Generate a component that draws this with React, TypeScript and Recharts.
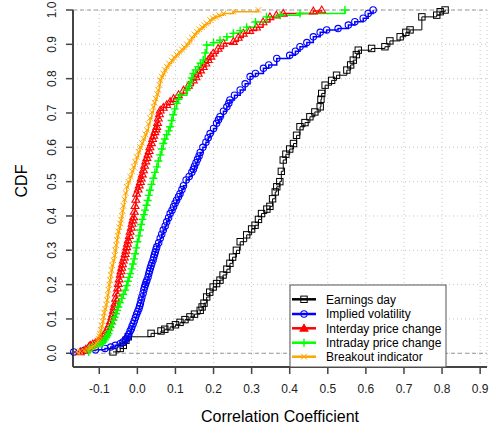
import React from 'react';
import { ComposedChart, Line, XAxis, YAxis, CartesianGrid, ReferenceLine } from 'recharts';

const earningsDay: [number, number][] = [
  [-0.064, 0.004], [-0.045, 0.014], [-0.037, 0.023], [-0.03, 0.038], [-0.024, 0.048],
  [0.036, 0.058], [0.062, 0.065], [0.072, 0.07], [0.086, 0.077], [0.1, 0.083],
  [0.112, 0.09], [0.125, 0.098], [0.138, 0.106], [0.15, 0.114], [0.165, 0.125],
  [0.17, 0.135], [0.175, 0.146], [0.182, 0.164], [0.19, 0.178], [0.199, 0.193],
  [0.208, 0.203], [0.217, 0.213], [0.225, 0.228], [0.235, 0.245], [0.243, 0.262],
  [0.25, 0.28], [0.26, 0.3], [0.27, 0.325], [0.287, 0.345], [0.3, 0.362],
  [0.309, 0.373], [0.318, 0.39], [0.326, 0.407], [0.34, 0.42], [0.348, 0.428],
  [0.355, 0.45], [0.362, 0.47], [0.366, 0.485], [0.374, 0.5], [0.378, 0.53],
  [0.383, 0.563], [0.39, 0.58], [0.4, 0.595], [0.41, 0.611], [0.418, 0.635],
  [0.427, 0.66], [0.44, 0.672], [0.453, 0.689], [0.466, 0.703], [0.48, 0.718],
  [0.482, 0.74], [0.484, 0.757], [0.493, 0.781], [0.51, 0.795], [0.523, 0.81],
  [0.55, 0.825], [0.56, 0.84], [0.567, 0.854], [0.575, 0.87], [0.58, 0.883],
  [0.615, 0.888], [0.65, 0.893], [0.663, 0.91], [0.69, 0.922], [0.705, 0.935],
  [0.716, 0.942], [0.747, 0.98], [0.786, 0.985], [0.795, 0.995], [0.808, 1.0],
];

const impliedVolatility: [number, number][] = [
  [-0.167, 0.004], [-0.14, 0.008], [-0.11, 0.01], [-0.085, 0.014], [-0.07, 0.018],
  [-0.058, 0.023], [-0.045, 0.028], [-0.038, 0.033], [-0.032, 0.038], [-0.028, 0.043],
  [-0.025, 0.048], [-0.022, 0.056], [-0.019, 0.065], [-0.016, 0.071], [-0.014, 0.078],
  [-0.011, 0.086], [-0.008, 0.095], [-0.005, 0.104], [-0.002, 0.114], [0.001, 0.122],
  [0.004, 0.13], [0.006, 0.138], [0.008, 0.145], [0.01, 0.155], [0.012, 0.164],
  [0.015, 0.175], [0.017, 0.185], [0.019, 0.193], [0.021, 0.2], [0.023, 0.207],
  [0.025, 0.213], [0.028, 0.222], [0.03, 0.232], [0.032, 0.24], [0.034, 0.248],
  [0.036, 0.255], [0.038, 0.262], [0.041, 0.271], [0.043, 0.28], [0.045, 0.288],
  [0.047, 0.295], [0.049, 0.303], [0.051, 0.31], [0.056, 0.322], [0.06, 0.335],
  [0.064, 0.347], [0.068, 0.359], [0.073, 0.371], [0.077, 0.383], [0.082, 0.395],
  [0.086, 0.407], [0.091, 0.417], [0.095, 0.427], [0.099, 0.437], [0.103, 0.446],
  [0.108, 0.456], [0.112, 0.465], [0.117, 0.477], [0.121, 0.488], [0.128, 0.505],
  [0.136, 0.515], [0.143, 0.527], [0.147, 0.536], [0.15, 0.545], [0.154, 0.555],
  [0.158, 0.565], [0.162, 0.575], [0.165, 0.585], [0.172, 0.6], [0.18, 0.615],
  [0.186, 0.628], [0.191, 0.64], [0.2, 0.655], [0.208, 0.67], [0.213, 0.68],
  [0.217, 0.689], [0.226, 0.705], [0.235, 0.718], [0.24, 0.728], [0.243, 0.738],
  [0.255, 0.752], [0.27, 0.767], [0.283, 0.785], [0.296, 0.806], [0.31, 0.815],
  [0.331, 0.83], [0.345, 0.84], [0.366, 0.859], [0.4, 0.868], [0.415, 0.88],
  [0.427, 0.893], [0.445, 0.905], [0.462, 0.922], [0.48, 0.935], [0.497, 0.942],
  [0.527, 0.946], [0.554, 0.956], [0.571, 0.966], [0.593, 0.976], [0.606, 0.99],
  [0.619, 1.0],
];

const interdayPriceChange: [number, number][] = [
  [-0.15, 0.004], [-0.14, 0.008], [-0.135, 0.012], [-0.128, 0.018], [-0.124, 0.023],
  [-0.117, 0.027], [-0.11, 0.03], [-0.104, 0.034], [-0.098, 0.038], [-0.094, 0.044],
  [-0.09, 0.05], [-0.085, 0.058], [-0.08, 0.067], [-0.077, 0.076], [-0.073, 0.085],
  [-0.07, 0.095], [-0.067, 0.106], [-0.065, 0.115], [-0.063, 0.125], [-0.061, 0.135],
  [-0.059, 0.145], [-0.057, 0.16], [-0.055, 0.175], [-0.052, 0.19], [-0.05, 0.203],
  [-0.048, 0.216], [-0.045, 0.23], [-0.043, 0.24], [-0.041, 0.25], [-0.039, 0.26],
  [-0.037, 0.271], [-0.034, 0.28], [-0.032, 0.29], [-0.03, 0.3], [-0.028, 0.31],
  [-0.026, 0.32], [-0.024, 0.33], [-0.021, 0.343], [-0.019, 0.355], [-0.016, 0.367],
  [-0.014, 0.378], [-0.012, 0.388], [-0.01, 0.397], [-0.008, 0.413], [-0.006, 0.43],
  [-0.004, 0.448], [-0.002, 0.466], [0.002, 0.478], [0.005, 0.49], [0.008, 0.5],
  [0.01, 0.51], [0.013, 0.522], [0.016, 0.534], [0.019, 0.547], [0.022, 0.56],
  [0.025, 0.57], [0.028, 0.58], [0.031, 0.59], [0.033, 0.601], [0.037, 0.613],
  [0.04, 0.625], [0.043, 0.635], [0.046, 0.645], [0.049, 0.653], [0.051, 0.66],
  [0.053, 0.672], [0.055, 0.685], [0.058, 0.697], [0.06, 0.708], [0.068, 0.716],
  [0.077, 0.724], [0.086, 0.733], [0.095, 0.742], [0.108, 0.753], [0.121, 0.766],
  [0.134, 0.78], [0.147, 0.796], [0.154, 0.805], [0.16, 0.815], [0.166, 0.825],
  [0.173, 0.835], [0.18, 0.845], [0.186, 0.855], [0.193, 0.865], [0.199, 0.874],
  [0.212, 0.888], [0.226, 0.903], [0.252, 0.908], [0.265, 0.92], [0.278, 0.932],
  [0.295, 0.94], [0.313, 0.95], [0.33, 0.965], [0.348, 0.98], [0.365, 0.985],
  [0.383, 0.99], [0.462, 0.997], [0.484, 1.0],
];

const intradayPriceChange: [number, number][] = [
  [-0.128, 0.004], [-0.125, 0.015], [-0.118, 0.019], [-0.11, 0.022], [-0.104, 0.025],
  [-0.098, 0.028], [-0.093, 0.03], [-0.089, 0.033], [-0.085, 0.039], [-0.082, 0.045],
  [-0.079, 0.051], [-0.076, 0.057], [-0.073, 0.066], [-0.07, 0.075], [-0.066, 0.085],
  [-0.063, 0.096], [-0.06, 0.105], [-0.056, 0.115], [-0.053, 0.125], [-0.05, 0.135],
  [-0.046, 0.148], [-0.041, 0.16], [-0.037, 0.172], [-0.032, 0.184], [-0.028, 0.197],
  [-0.025, 0.21], [-0.022, 0.221], [-0.019, 0.232], [-0.015, 0.246], [-0.012, 0.26],
  [-0.009, 0.275], [-0.006, 0.29], [-0.003, 0.307], [0.0, 0.325], [0.004, 0.342],
  [0.007, 0.359], [0.01, 0.375], [0.013, 0.39], [0.017, 0.404], [0.02, 0.417],
  [0.024, 0.431], [0.027, 0.445], [0.03, 0.46], [0.033, 0.475], [0.037, 0.492],
  [0.042, 0.51], [0.046, 0.527], [0.051, 0.543], [0.055, 0.56], [0.06, 0.578],
  [0.064, 0.595], [0.068, 0.611], [0.072, 0.624], [0.077, 0.637], [0.082, 0.648],
  [0.086, 0.66], [0.09, 0.678], [0.094, 0.695], [0.098, 0.712], [0.103, 0.728],
  [0.108, 0.74], [0.112, 0.752], [0.13, 0.767], [0.135, 0.778], [0.139, 0.79],
  [0.143, 0.802], [0.147, 0.815], [0.153, 0.825], [0.16, 0.835], [0.166, 0.845],
  [0.173, 0.854], [0.178, 0.875], [0.182, 0.898], [0.2, 0.905], [0.217, 0.912],
  [0.235, 0.922], [0.252, 0.932], [0.27, 0.94], [0.287, 0.95], [0.31, 0.965],
  [0.339, 0.98], [0.375, 0.985], [0.427, 0.99], [0.545, 1.0],
];

const breakoutIndicator: [number, number][] = [
  [-0.159, 0.004], [-0.15, 0.006], [-0.14, 0.008], [-0.132, 0.011], [-0.125, 0.014],
  [-0.12, 0.017], [-0.115, 0.02], [-0.111, 0.024], [-0.107, 0.028], [-0.104, 0.035],
  [-0.102, 0.042], [-0.1, 0.05], [-0.098, 0.057], [-0.096, 0.068], [-0.094, 0.08],
  [-0.091, 0.093], [-0.089, 0.106], [-0.087, 0.118], [-0.085, 0.13], [-0.082, 0.142],
  [-0.08, 0.155], [-0.078, 0.17], [-0.076, 0.185], [-0.074, 0.2], [-0.072, 0.213],
  [-0.07, 0.228], [-0.068, 0.242], [-0.066, 0.256], [-0.063, 0.271], [-0.06, 0.285],
  [-0.058, 0.3], [-0.056, 0.315], [-0.054, 0.33], [-0.052, 0.342], [-0.05, 0.355],
  [-0.047, 0.367], [-0.045, 0.378], [-0.043, 0.389], [-0.041, 0.4], [-0.039, 0.415],
  [-0.037, 0.43], [-0.034, 0.448], [-0.031, 0.467], [-0.028, 0.485], [-0.024, 0.5],
  [-0.019, 0.515], [-0.014, 0.53], [-0.01, 0.543], [-0.006, 0.558], [-0.002, 0.572],
  [0.003, 0.587], [0.007, 0.601], [0.012, 0.613], [0.016, 0.625], [0.021, 0.638],
  [0.025, 0.65], [0.029, 0.668], [0.033, 0.685], [0.038, 0.702], [0.042, 0.718],
  [0.045, 0.73], [0.048, 0.742], [0.052, 0.755], [0.055, 0.767], [0.058, 0.782],
  [0.06, 0.796], [0.064, 0.806], [0.068, 0.815], [0.072, 0.825], [0.077, 0.835],
  [0.083, 0.844], [0.09, 0.853], [0.096, 0.862], [0.103, 0.87], [0.11, 0.878],
  [0.117, 0.885], [0.123, 0.892], [0.13, 0.9], [0.137, 0.91], [0.143, 0.92],
  [0.15, 0.929], [0.156, 0.937], [0.163, 0.944], [0.17, 0.95], [0.176, 0.956],
  [0.182, 0.961], [0.191, 0.971], [0.198, 0.976], [0.205, 0.98], [0.215, 0.985],
  [0.226, 0.99], [0.252, 0.995], [0.318, 1.0],
];

const xTicks = [-0.1, 0, 0.1, 0.2, 0.3, 0.4, 0.5, 0.6, 0.7, 0.8, 0.9];
const yTicks = [0, 0.1, 0.2, 0.3, 0.4, 0.5, 0.6, 0.7, 0.8, 0.9, 1.0];

type MarkerKind = 'square' | 'circle' | 'triangle' | 'plus' | 'cross';

const SERIES: { name: string; color: string; marker: MarkerKind; width: number; points: [number, number][] }[] = [
  { name: 'Earnings day', color: '#000000', marker: 'square', width: 1, points: earningsDay },
  { name: 'Implied volatility', color: '#0000ff', marker: 'circle', width: 1.5, points: impliedVolatility },
  { name: 'Interday price change', color: '#ff0000', marker: 'triangle', width: 1.5, points: interdayPriceChange },
  { name: 'Intraday price change', color: '#00ff00', marker: 'plus', width: 1.5, points: intradayPriceChange },
  { name: 'Breakout indicator', color: '#ffa500', marker: 'cross', width: 1.5, points: breakoutIndicator },
];

const FONT = '"Liberation Sans", Arial, Helvetica, sans-serif';

function Marker({ kind, cx, cy, color, filled = false }: { kind: MarkerKind; cx: number; cy: number; color: string; filled?: boolean }) {
  if (cx == null || cy == null || isNaN(cx) || isNaN(cy)) return null;
  const fill = filled ? color : 'none';
  switch (kind) {
    case 'square':
      return <rect x={cx - 3.2} y={cy - 3.2} width={6.4} height={6.4} fill={fill} stroke={color} strokeWidth={1} />;
    case 'circle':
      return <circle cx={cx} cy={cy} r={3.2} fill={fill} stroke={color} strokeWidth={1.1} />;
    case 'triangle':
      return (
        <path d={`M${cx},${cy - 4} L${cx + 3.9},${cy + 2.8} L${cx - 3.9},${cy + 2.8} Z`} fill={fill} stroke={color} strokeWidth={1.1} />
      );
    case 'plus':
      return <path d={`M${cx - 4},${cy} H${cx + 4} M${cx},${cy - 4} V${cy + 4}`} stroke={color} strokeWidth={1.4} />;
    case 'cross':
      return (
        <path d={`M${cx - 2.8},${cy - 2.8} L${cx + 2.8},${cy + 2.8} M${cx - 2.8},${cy + 2.8} L${cx + 2.8},${cy - 2.8}`} stroke={color} strokeWidth={1} />
      );
  }
  return null;
}

function YTick(props: any) {
  const { y, payload } = props;
  const x = 56;
  return (
    <text x={x} y={y} transform={`rotate(-90 ${x} ${y})`} textAnchor="middle" fontSize={12} fontFamily={FONT} fill="#222">
      {Number(payload.value).toFixed(1)}
    </text>
  );
}

function XTick(props: any) {
  const { x, payload } = props;
  return (
    <text x={x} y={393} textAnchor="middle" fontSize={12} fontFamily={FONT} fill="#222">
      {Number(payload.value).toFixed(1)}
    </text>
  );
}

function LegendBox() {
  const rowY = [299.3, 314, 328.3, 342.7, 356.7];
  return (
    <svg width={493} height={429} style={{ position: 'absolute', left: 0, top: 0, pointerEvents: 'none' }}>
      <rect x={290} y={285} width={156} height={82} fill="#fff" stroke="#555" strokeWidth={1} />
      {SERIES.map((s, i) => (
        <g key={s.name}>
          <line x1={292} x2={316} y1={rowY[i]} y2={rowY[i]} stroke={s.color} strokeWidth={2.5} />
          <Marker kind={s.marker} cx={304} cy={rowY[i]} color={s.color} filled={s.marker !== 'square' && s.marker !== 'circle'} />
          <text x={326} y={rowY[i] + 4.3} fontSize={12} fontFamily={FONT} fill="#000">
            {s.name}
          </text>
        </g>
      ))}
      <text x={280} y={422} textAnchor="middle" fontSize={16} fontFamily={FONT} fill="#000">
        Correlation Coefficient
      </text>
      <text x={26.5} y={181} transform="rotate(-90 26.5 181)" textAnchor="middle" fontSize={16} fontFamily={FONT} fill="#000">
        CDF
      </text>
    </svg>
  );
}

export default function App() {
  return (
    <div style={{ position: 'absolute', left: 0, top: 0, width: 493, height: 429, background: '#fff' }}>
      <ComposedChart width={493} height={429} margin={{ top: 10, right: 6, bottom: 0, left: 0 }}>
        <CartesianGrid stroke="#c8c8c8" strokeDasharray="1 3" />
        <XAxis
          type="number"
          dataKey="x"
          domain={[-0.169, 0.918]}
          ticks={xTicks}
          height={62}
          tick={<XTick />}
          tickSize={7}
          axisLine={{ stroke: '#444', strokeWidth: 2 }}
          tickLine={{ stroke: '#444', strokeWidth: 1.5 }}
        />
        <YAxis
          type="number"
          dataKey="y"
          domain={[-0.04, 1.0]}
          ticks={yTicks}
          width={73}
          tick={<YTick />}
          tickSize={7}
          axisLine={{ stroke: '#444', strokeWidth: 2 }}
          tickLine={{ stroke: '#444', strokeWidth: 1.5 }}
        />
        <ReferenceLine y={0} stroke="#9a9a9a" strokeDasharray="4 3" />
        <ReferenceLine y={1} stroke="#9a9a9a" strokeDasharray="4 3" />
        {SERIES.map((s) => (
          <Line
            key={s.name}
            data={s.points.map(([x, y]) => ({ x, y }))}
            dataKey="y"
            type="stepAfter"
            stroke={s.color}
            strokeWidth={s.width}
            isAnimationActive={false}
            dot={(p: any) => <Marker key={`${s.name}-${p.index}`} kind={s.marker} cx={p.cx} cy={p.cy} color={s.color} />}
            activeDot={false}
          />
        ))}
      </ComposedChart>
      <LegendBox />
    </div>
  );
}
